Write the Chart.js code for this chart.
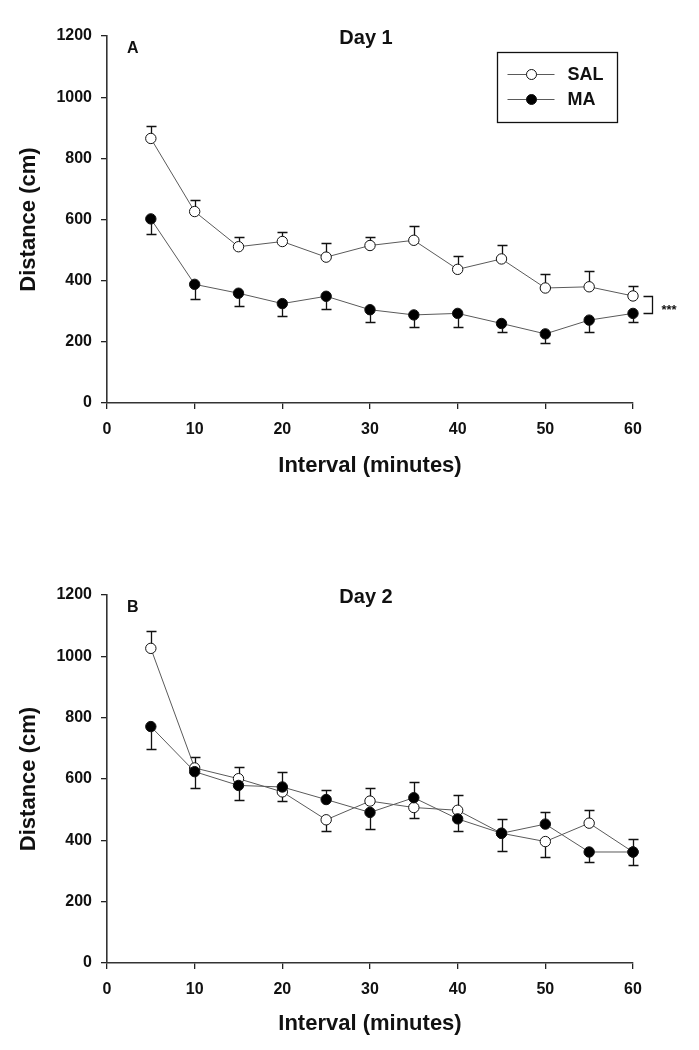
<!DOCTYPE html>
<html><head><meta charset="utf-8">
<script src="https://cdn.jsdelivr.net/npm/chart.js@4.4.1/dist/chart.umd.min.js"></script>
<style>
html,body{margin:0;padding:0;background:#fff;}
#wrap{position:relative;width:699px;height:1050px;background:#fff;}
.panel{position:absolute;left:0;width:699px;height:525px;}
</style></head><body>
<div id="wrap">
<div class="panel" style="top:0"><canvas id="c1" width="699" height="525"></canvas></div>
<div class="panel" style="top:525px"><canvas id="c2" width="699" height="525"></canvas></div>
</div>
<script>
// ---------- data ----------
const intervals = [5, 10, 15, 20, 25, 30, 35, 40, 45, 50, 55, 60];
const xTicks = [0, 10, 20, 30, 40, 50, 60];
const yTicks = [0, 200, 400, 600, 800, 1000, 1200];
const seriesNames = ['SAL', 'MA'];
const panelTitles = ['Day 1', 'Day 2'];
const panelLetters = ['A', 'B'];
const xAxisTitle = 'Interval (minutes)';
const yAxisTitle = 'Distance (cm)';
const significance = '***';

const day1Sal    = [865, 626, 511, 528, 477, 515, 532, 437, 471, 376, 380, 350];
const day1SalErr = [40, 38, 32, 32, 45, 28, 48, 44, 47, 46, 51, 34];
const day1SalDir = [1, 1, 1, 1, 1, 1, 1, 1, 1, 1, 1, 1];
const day1Ma     = [602, 388, 359, 325, 349, 305, 288, 293, 260, 226, 271, 293];
const day1MaErr  = [49, 48, 43, 39, 42, 39, 39, 44, 28, 31, 39, 27];
const day1MaDir  = [-1, -1, -1, -1, -1, -1, -1, -1, -1, -1, -1, -1];

const day2Sal    = [1026, 636, 601, 558, 467, 528, 507, 498, 423, 396, 456, 362];
const day2SalErr = [57, 36, 37, 30, 35, 44, 34, 49, 46, 51, 42, 41];
const day2SalDir = [1, 1, 1, -1, -1, 1, -1, 1, 1, -1, 1, 1];
const day2Ma     = [771, 624, 579, 574, 533, 491, 539, 470, 423, 453, 362, 362];
const day2MaErr  = [74, 52, 47, 48, 30, 55, 51, 38, 57, 41, 34, 42];
const day2MaDir  = [-1, -1, -1, 1, 1, -1, 1, -1, -1, 1, -1, -1];

// ---------- styling ----------
const FONT = '"Liberation Sans", Arial, Helvetica, sans-serif';
const INK = '#111';
const LINE = '#5a5a5a';

const errorBarPlugin = {
  id: 'errbars',
  beforeDatasetsDraw(chart) {
    const {ctx, scales: {x, y}} = chart;
    ctx.save();
    ctx.strokeStyle = INK;
    ctx.lineWidth = 1.3;
    chart.data.datasets.forEach(ds => {
      ds.data.forEach((p, i) => {
        const px = Math.round(x.getPixelForValue(p.x)) + 0.5;
        const py0 = y.getPixelForValue(p.y);
        const py1 = Math.round(y.getPixelForValue(p.y + ds.errVals[i] * ds.errDir[i])) + 0.5;
        ctx.beginPath();
        ctx.moveTo(px, py0); ctx.lineTo(px, py1);
        ctx.moveTo(px - 5, py1); ctx.lineTo(px + 5, py1);
        ctx.stroke();
      });
    });
    ctx.restore();
  }
};

const panelTextPlugin = {
  id: 'paneltext',
  afterDraw(chart, args, opts) {
    const {ctx, chartArea: a} = chart;
    ctx.save();
    ctx.fillStyle = INK;
    ctx.font = 'bold 20px ' + FONT;
    ctx.textAlign = 'center';
    ctx.textBaseline = 'middle';
    ctx.fillText(opts.title, (a.left + a.right) / 2 - 4, a.top + 2);
    ctx.font = 'bold 16px ' + FONT;
    ctx.textAlign = 'left';
    ctx.fillText(opts.letter, a.left + 20, a.top + 13);

    if (opts.legend) {
      const bx = a.right - 135.5, by = a.top + 16.5, bw = 120, bh = 70;
      ctx.strokeStyle = INK;
      ctx.lineWidth = 1.3;
      ctx.strokeRect(bx, by, bw, bh);
      chart.data.datasets.slice().sort((d1, d2) => d1.legendRank - d2.legendRank).forEach((ds, k) => {
        const ly = by + 22 + k * 25;
        ctx.strokeStyle = LINE;
        ctx.lineWidth = 1;
        ctx.beginPath(); ctx.moveTo(bx + 10, ly); ctx.lineTo(bx + 57, ly); ctx.stroke();
        ctx.beginPath(); ctx.arc(bx + 34, ly, 5, 0, Math.PI * 2);
        ctx.fillStyle = ds.pointBackgroundColor; ctx.fill();
        ctx.strokeStyle = INK; ctx.stroke();
        ctx.fillStyle = INK;
        ctx.font = 'bold 18px ' + FONT;
        ctx.textAlign = 'left';
        ctx.textBaseline = 'middle';
        ctx.fillText(ds.label, bx + 70, ly + 1);
      });
    }
    if (opts.bracket) {
      const {x, y} = chart.scales;
      const ds = chart.data.datasets;
      const n = intervals.length - 1;
      const xr = Math.round(x.getPixelForValue(intervals[n])) + 0.5;
      const ya = Math.round(y.getPixelForValue(ds[1].data[n].y)) + 0.5;
      const yb = Math.round(y.getPixelForValue(ds[0].data[n].y)) + 0.5;
      ctx.strokeStyle = INK;
      ctx.lineWidth = 1.3;
      ctx.beginPath();
      ctx.moveTo(xr + 10, ya); ctx.lineTo(xr + 19, ya); ctx.lineTo(xr + 19, yb); ctx.lineTo(xr + 10, yb);
      ctx.stroke();
      ctx.font = 'bold 13px ' + FONT;
      ctx.textAlign = 'left';
      ctx.textBaseline = 'middle';
      ctx.fillText(significance, xr + 28, (ya + yb) / 2 + 5);
    }
    ctx.restore();
  }
};

function series(vals, errs, dirs, name, fill, order, rank) {
  return {
    label: name,
    data: intervals.map((t, i) => ({x: t, y: vals[i]})),
    errVals: errs,
    errDir: dirs,
    borderColor: LINE,
    borderWidth: 1,
    pointRadius: 5.2,
    pointBorderWidth: 1,
    pointBorderColor: INK,
    pointBackgroundColor: fill,
    tension: 0,
    clip: false,
    order: order,
    legendRank: rank
  };
}

function makePanel(id, idx, sal, salErr, salDir, ma, maErr, maDir, padTop, xAxisH, titlePad, extras) {
  return new Chart(document.getElementById(id), {
    type: 'line',
    data: {
      datasets: [
        series(sal, salErr, salDir, seriesNames[0], '#ffffff', 1, 0),
        series(ma, maErr, maDir, seriesNames[1], '#000000', 0, 1)
      ]
    },
    options: {
      responsive: false,
      animation: false,
      events: [],
      layout: {padding: {top: padTop, right: 66, left: 0, bottom: 0}},
      plugins: {
        legend: {display: false},
        tooltip: {enabled: false},
        paneltext: {title: panelTitles[idx], letter: panelLetters[idx], legend: extras, bracket: extras}
      },
      scales: {
        x: {
          type: 'linear', min: 0, max: 60,
          afterBuildTicks: s => { s.ticks = xTicks.map(v => ({value: v})); },
          afterFit: s => { s.height = xAxisH; },
          ticks: {color: INK, font: {family: FONT, size: 16, weight: 'bold'}, padding: 11, maxRotation: 0,
                  callback: v => String(v)},
          grid: {drawOnChartArea: false, drawTicks: true, tickLength: 6, color: '#222', lineWidth: 1.3},
          border: {display: true, color: '#333', width: 1.6},
          title: {display: true, text: xAxisTitle, color: INK, font: {family: FONT, size: 22, weight: 'bold'}, padding: {top: 0, bottom: titlePad}}
        },
        y: {
          type: 'linear', min: 0, max: 1200,
          afterBuildTicks: s => { s.ticks = yTicks.map(v => ({value: v})); },
          afterFit: s => { s.width = 107; },
          ticks: {color: INK, font: {family: FONT, size: 16, weight: 'bold'}, padding: 9,
                  callback: v => String(v)},
          grid: {drawOnChartArea: false, drawTicks: true, tickLength: 6, color: '#222', lineWidth: 1.3},
          border: {display: true, color: '#333', width: 1.6},
          title: {display: true, text: yAxisTitle, color: INK, font: {family: FONT, size: 22, weight: 'bold'}, padding: {top: 16, bottom: 0}}
        }
      }
    },
    plugins: [errorBarPlugin, panelTextPlugin]
  });
}

makePanel('c1', 0, day1Sal, day1SalErr, day1SalDir, day1Ma, day1MaErr, day1MaDir, 36, 122, 46, true);
makePanel('c2', 1, day2Sal, day2SalErr, day2SalDir, day2Ma, day2MaErr, day2MaDir, 70, 87, 13, false);
</script>
</body></html>
